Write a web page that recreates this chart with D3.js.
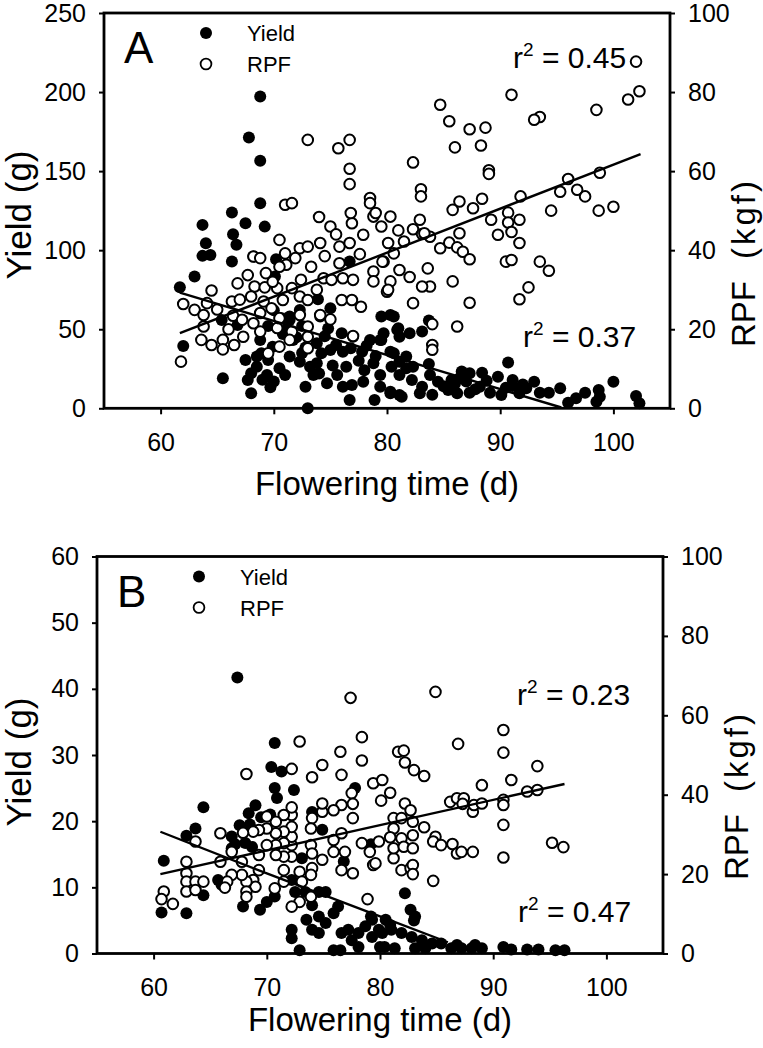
<!DOCTYPE html>
<html>
<head>
<meta charset="utf-8">
<script src="https://cdn.jsdelivr.net/npm/d3@7"></script>
<style>
  body { margin: 0; background: #fff; }
  text { font-family: "Liberation Sans", Arial, sans-serif; fill: #000; }
</style>
</head>
<body>
<script>
// ---- data: [flowering day, value] ----
var aYield = [[68.8,197.2],[67.8,171.3],[68.8,156.5],
  [61.7,76.6],[62.0,39.4],[63.0,83.3],[63.7,116.0],[64.0,104.4],[63.7,96.4],[64.4,97.0],[66.3,123.8],[66.4,110.1],
  [66.7,103.4],[66.3,92.8],[67.5,117.1],[68.8,129.7],[69.2,114.9],[65.5,19.0],[65.4,55.9],[66.8,52.7],[67.5,30.6],
  [68.0,22.2],[67.7,17.9],[68.0,9.5],[68.5,26.3],[68.9,34.8],[69.4,21.1],[69.7,13.3],[70.2,94.3],[70.1,83.3],
  [70.7,57.0],[71.4,55.9],[70.5,25.3],[72.8,13.7],[73.0,0.0],[72.3,29.5],[73.2,26.3],[73.8,41.1],[73.9,69.0],
  [75.0,63.3],[74.2,34.8],[75.6,21.1],[74.7,15.8],[76.0,47.5],[76.7,92.8],[76.1,35.8],[76.7,5.3],[76.9,14.7],
  [77.9,16.8],[78.8,28.5],[78.9,5.3],[79.4,21.1],[80.3,10.5],[81.3,7.3],[80.4,26.3],[80.6,58.0],[80.3,35.8],
  [81.1,45.3],[81.7,32.7],[81.7,25.3],[78.5,43.2],[79.4,43.2],[77.0,45.3],[77.8,35.8],[75.0,36.9],[73.8,28.5],
  [71.7,43.2],[71.1,49.6],[69.9,39.0],[68.8,43.2],[68.5,32.7],[69.5,30.6],[71.4,32.7],[73.5,21.1],[76.4,26.3],
  [76.1,13.7],[79.4,13.7],[71.4,58.0],[72.3,62.2],[74.1,58.0],[68.2,96.0],
  [72.0,45.0],[72.8,38.5],[74.5,45.5],[75.5,40.0],[76.8,38.0],[77.5,30.0],[78.0,24.0],[75.2,27.0],[74.0,22.0],
  [72.5,35.0],[70.8,47.0],[69.5,52.0],[70.0,62.0],[72.5,52.0],[74.8,50.5],[78.2,39.5],[79.0,33.0],[71.0,21.0],
  [70.0,17.0],[69.0,18.0],
  [90.7,28.9],[100.0,16.8],[102.0,7.8],[102.3,3.2],[98.7,11.6],[98.8,7.3],[98.5,4.2],[97.5,9.9],[96.7,6.3],
  [96.0,3.5],[95.3,12.7],[94.3,9.9],[93.5,9.9],[93.0,16.8],[92.3,12.7],[91.7,9.5],[91.1,14.1],[91.1,17.9],
  [89.8,20.0],[88.4,22.5],[87.3,22.2],[86.6,23.2],[86.4,19.0],[85.7,17.9],[88.2,13.7],[89.1,9.9],[90.1,8.4],
  [87.3,9.9],[86.2,9.5],[85.4,11.6],[84.5,16.8],[83.8,21.1],[83.7,28.0],[82.3,26.3],[81.1,29.5],[80.6,34.8],
  [80.3,59.0],[79.5,58.0],[80.3,9.5],[81.1,8.4],[82.9,9.5],[83.1,13.7],[82.2,17.9],[81.1,21.1],[79.7,47.5],
  [79.5,43.2],[80.9,49.6],[83.7,55.5],[82.0,47.5],[83.1,48.5],[81.0,50.6],
  [85.0,14.0],[86.0,15.5],[87.0,17.0],[88.8,17.5],[90.5,13.0],[92.0,15.0],[84.0,8.5],[87.8,12.0]];

var aRpf = [[73.0,67.9],[75.7,65.8],[76.7,67.9],[76.7,60.6],[76.7,56.7],[78.5,53.2],
  [102.0,87.7],[102.3,80.2],[101.3,78.1],[98.5,75.5],[91.0,79.3],[93.5,73.7],[93.0,73.0],[84.7,76.8],[85.5,72.6],
  [87.3,70.6],[88.7,71.0],[86.0,66.0],[88.3,66.5],[82.3,62.2],[89.0,60.2],[89.0,59.3],[83.0,55.4],[83.0,53.6],
  [96.0,58.0],[98.8,59.6],[95.3,54.8],[96.8,55.3],[97.5,53.6],[91.8,53.6],[86.4,52.3],[88.4,53.0],
  [85.8,50.2],[87.6,50.6],[94.5,50.0],[98.7,50.0],[100.0,51.0],[80.3,48.5],[89.2,47.7],[90.7,49.5],[90.7,47.0],
  [91.7,47.7],[89.8,43.9],[91.0,44.6],[91.7,41.8],[82.3,45.3],[81.0,45.0],[83.1,44.1],[83.8,43.4],[86.4,44.3],
  [84.7,40.5],[85.5,41.9],[86.2,40.7],[86.7,39.6],[87.3,37.7],[90.5,37.1],[91.0,37.5],[93.5,37.1],[94.3,34.8],
  [92.5,30.6],[91.7,27.6],[87.3,26.7],[86.2,20.7],[85.8,32.1],[83.6,35.4],[83.8,30.8],[83.1,30.8],[82.3,26.6],
  [82.0,33.2],[81.1,35.0],[80.3,32.1],[80.0,29.5],[79.7,37.1],[84.0,21.3],[84.0,16.0],[84.0,14.8],
  [61.8,11.8],[62.0,26.4],[63.0,24.9],[63.8,23.6],[64.5,29.8],[64.1,26.6],[63.8,20.7],[63.6,17.3],[64.5,16.0],
  [65.5,17.3],[65.5,14.9],[66.5,16.0],[66.4,23.4],[66.3,27.0],[66.8,31.6],[67.3,18.1],[67.7,33.7],[68.3,30.8],
  [68.2,38.4],[68.8,38.0],[69.3,34.2],[69.2,30.6],[69.1,27.0],[68.0,28.3],[68.8,19.4],[68.2,21.5],[69.5,13.9],
  [70.3,20.3],[70.5,22.8],[70.8,27.4],[70.3,30.4],[71.0,39.2],[70.5,42.6],[71.1,36.3],[71.6,30.4],[71.6,19.4],
  [72.3,23.6],[72.3,40.5],[73.0,40.9],[72.4,32.5],[73.0,20.7],[73.0,18.1],[73.0,15.2],[73.3,35.8],[74.1,41.8],
  [74.4,32.9],[74.1,23.6],[75.0,46.0],[74.0,48.4],[75.0,22.5],[76.0,27.4],[75.8,40.9],[76.1,32.9],[76.9,27.4],
  [76.9,46.8],[76.7,41.8],[77.0,32.5],[77.7,25.7],[77.9,43.9],[78.5,51.9],[78.8,48.5],[78.8,34.6],[78.8,32.1],
  [79.5,46.0],[79.6,37.1],[80.1,41.8],[80.1,30.0],[80.6,39.2],[81.5,42.2],[77.0,18.3],[75.1,32.5],[75.8,36.7],
  [71.4,17.3],[72.3,28.3],[67.2,22.4],[68.8,24.1],[69.8,25.3],[70.5,15.6],[73.0,27.4],[70.5,35.8],[71.0,51.5],
  [71.6,51.9],[76.8,49.4],[79.0,49.4],[82.9,47.7],[83.3,44.3],
  [67.0,27.5],[65.0,25.0],[66.0,20.0],[69.9,32.0],[71.9,38.0],[74.5,38.5],[75.5,44.0],[77.6,39.0],[73.8,30.0]];

var bYield = [[67.4,41.7],[70.7,31.8],[64.4,22.1],[63.7,18.9],[62.9,17.8],[60.9,14.0],[60.7,6.2],[62.9,6.1],
  [64.4,8.8],[67.9,7.1],[69.4,6.6],[70.0,7.8],[70.4,28.2],[70.7,25.0],[70.9,23.5],[71.3,27.5],[72.4,24.7],
  [69.0,22.4],[68.4,21.2],[67.6,19.4],[66.9,17.7],[68.1,16.7],[68.7,16.1],[66.9,15.9],[65.7,11.1],[66.0,10.4],
  [67.2,16.5],[68.5,19.5],[69.5,20.6],[70.3,21.0],[79.2,16.5],
  [74.0,21.4],[74.9,18.7],[73.1,14.4],[76.8,13.9],[77.8,25.0],[72.2,11.1],[72.5,9.3],[73.4,9.3],[74.6,9.3],
  [75.2,9.3],[70.7,8.6],[74.0,7.3],[72.2,3.6],[72.2,2.3],[72.9,0.5],[73.5,5.1],[74.0,3.6],[74.6,5.6],[74.6,3.1],
  [75.2,4.6],[75.9,6.1],[76.3,7.1],[76.6,3.1],[77.2,3.6],[75.9,0.5],[76.5,0.5],[77.5,2.0],[78.1,3.1],[78.7,4.1],
  [79.3,5.1],[79.3,2.5],[79.9,3.6],[80.0,1.0],[78.1,1.0],[82.2,9.1],[82.7,6.6],[83.1,5.6],[83.0,5.0],[80.2,3.1],
  [81.0,3.6],[81.9,3.1],[82.8,2.5],[83.7,2.0],[84.6,1.5],[85.4,1.5],[84.0,0.8],[83.1,0.8],[81.3,0.8],[80.4,1.0],
  [86.3,0.8],[87.2,0.8],[88.1,0.8],[89.0,0.8],[86.8,1.3],[88.4,1.3],[90.9,1.0],[91.6,0.6],[93.0,0.6],[94.0,0.6],
  [95.5,0.5],[96.3,0.5],[80.5,5.1],[80.9,4.3],[79.2,5.6]];

var bRpf = [[77.4,64.4],[84.9,65.9],
  [68.2,45.2],[72.9,53.4],[72.2,46.5],[74.9,47.5],[74.0,44.4],[76.5,50.8],[76.6,45.0],[78.4,54.5],[78.4,48.6],
  [79.4,42.9],[80.2,43.7],[80.1,38.5],[77.5,40.4],[77.6,37.7],[77.6,34.1],[76.6,37.4],[75.9,36.1],[74.9,35.7],
  [74.9,37.8],[74.0,34.1],[73.9,31.5],[73.9,27.3],[74.0,25.2],[74.0,21.5],[73.9,19.8],[73.9,14.3],[72.9,20.6],
  [73.1,18.1],[72.9,13.0],[72.2,11.8],[72.2,24.4],[72.2,27.3],[72.2,29.4],[72.2,31.9],[72.2,34.9],[72.2,36.8],
  [71.5,34.9],[71.5,30.7],[71.5,27.8],[71.5,24.4],[71.5,21.0],[71.5,18.1],[70.8,33.2],[70.8,30.3],[70.8,27.3],
  [70.8,24.8],[70.7,16.4],[70.0,31.5],[70.0,27.3],[70.0,34.5],[69.3,31.1],[69.3,24.8],[69.3,21.0],[68.8,18.5],
  [68.8,30.7],[69.0,16.8],[68.2,18.1],[68.2,15.6],[68.2,14.3],[67.8,23.1],[67.8,19.8],[67.9,30.4],[66.9,25.6],
  [66.9,19.8],[66.5,18.1],[66.3,16.6],[65.9,30.3],[65.9,23.1],[63.7,28.2],[62.9,23.1],[62.9,20.2],[62.9,18.1],
  [62.9,15.6],[63.7,18.1],[63.7,16.0],[64.4,18.1],[60.9,15.6],[60.7,13.7],[61.7,12.5],[75.9,28.6],[75.9,25.6],
  [76.6,30.3],[76.9,25.6],[76.6,21.0],[77.6,20.2],[74.9,23.6],[78.9,13.7],[78.4,27.8],[79.1,25.6],[79.4,22.3],
  [79.9,28.2],
  [90.9,56.3],[90.9,50.6],[86.9,52.8],[81.6,50.8],[82.1,51.1],[82.2,48.1],[83.0,46.2],[83.9,44.7],[80.9,40.5],
  [82.2,37.8],[82.7,36.1],[81.2,34.1],[81.9,34.1],[82.9,33.2],[81.2,31.5],[83.9,31.8],[80.9,29.3],[81.9,29.0],
  [82.9,29.8],[84.9,29.4],[84.7,28.2],[85.4,27.3],[86.4,27.6],[86.8,25.2],[87.2,25.6],[88.2,25.6],[79.6,22.7],
  [81.2,24.0],[81.2,26.5],[82.1,26.9],[82.9,26.5],[81.9,21.0],[82.7,21.5],[82.9,22.3],[82.9,20.0],[84.7,18.3],
  [86.2,38.2],[86.8,39.1],[87.4,39.1],[87.3,37.7],[88.2,35.7],[88.3,37.4],[89.0,37.8],[89.0,42.4],[91.6,43.7],
  [90.9,38.7],[90.9,37.4],[90.9,32.4],[90.9,24.2],[93.0,40.8],[93.9,41.2],[93.9,47.2],[95.2,27.9],[96.2,26.8]];

// fitted lines, read at their ends
var aYieldFit = [[61.7,73.2],[95.4,0.5]];
var aRpfFit = [[61.7,19.0],[102.4,64.3]];
var bYieldFit = [[60.6,18.4],[70,12.1],[80,5.6],[86,1.7]];
var bRpfFit = [[60.6,20.0],[96.3,42.7]];

var xTicks = [60, 70, 80, 90, 100];
var aYieldTicks = [0, 50, 100, 150, 200, 250];
var bYieldTicks = [0, 10, 20, 30, 40, 50, 60];
var rpfTicks = [0, 20, 40, 60, 80, 100];

var svg = d3.select("body").append("svg")
    .attr("width", 763)
    .attr("height", 1048);

function panel(o) {
  var x = d3.scaleLinear().domain([55, 105]).range([o.left, o.right]),
      yL = d3.scaleLinear().domain([0, o.yMax]).range([o.bottom, o.top]),
      yR = d3.scaleLinear().domain([0, 100]).range([o.bottom, o.top]);

  var g = svg.append("g");

  // points: yield first, RPF on top
  g.selectAll(".yp").data(o.yield).enter().append("circle")
    .attr("cx", function(d){ return x(d[0]); })
    .attr("cy", function(d){ return yL(d[1]); })
    .attr("r", 6)
    .attr("fill", "#000");
  g.selectAll(".rp").data(o.rpf).enter().append("circle")
    .attr("cx", function(d){ return x(d[0]); })
    .attr("cy", function(d){ return yR(d[1]); })
    .attr("r", 5.3)
    .attr("fill", "#fff")
    .attr("stroke", "#000")
    .attr("stroke-width", 2);

  var lineL = d3.line().x(function(d){ return x(d[0]); }).y(function(d){ return yL(d[1]); }),
      lineR = d3.line().x(function(d){ return x(d[0]); }).y(function(d){ return yR(d[1]); });
  g.append("path").attr("d", lineL(o.yieldFit)).attr("fill", "none").attr("stroke", "#000").attr("stroke-width", 2.4);
  g.append("path").attr("d", lineR(o.rpfFit)).attr("fill", "none").attr("stroke", "#000").attr("stroke-width", 2.4);

  // axes
  var ax = g.append("g").attr("transform", "translate(0," + o.bottom + ")")
    .call(d3.axisBottom(x).tickValues(xTicks).tickSize(6).tickPadding(19));
  var al = g.append("g").attr("transform", "translate(" + o.left + ",0)")
    .call(d3.axisLeft(yL).tickValues(o.yTicks).tickSize(5).tickPadding(13));
  var ar = g.append("g").attr("transform", "translate(" + o.right + ",0)")
    .call(d3.axisRight(yR).tickValues(rpfTicks).tickSize(5).tickPadding(13));
  [ax, al, ar].forEach(function(a){
    a.select(".domain").remove();
    a.selectAll("line").attr("stroke-width", 2);
    a.selectAll("text").attr("font-size", 25).attr("font-family", null);
  });

  g.append("rect")
    .attr("x", o.left).attr("y", o.top)
    .attr("width", o.right - o.left).attr("height", o.bottom - o.top)
    .attr("fill", "none").attr("stroke", "#000").attr("stroke-width", 2.8);

  // titles
  g.append("text").attr("x", (o.left + o.right) / 2).attr("y", o.titleY)
    .attr("text-anchor", "middle").attr("font-size", 33).text("Flowering time (d)");
  g.append("text").attr("transform", "translate(31," + o.yTitleMid + ") rotate(-90)")
    .attr("text-anchor", "middle").attr("font-size", 35).text("Yield (g)");
  var rt = g.append("text").attr("transform", "translate(" + o.rTitleX + "," + o.rTitleStart + ") rotate(-90)")
    .attr("font-size", 33);
  rt.append("tspan").text("RPF");
  rt.append("tspan").attr("dx", 22).attr("letter-spacing", 3).text("(kgf)");

  // panel letter
  g.append("text").attr("x", o.left + 20).attr("y", o.top + 50).attr("font-size", 44).text(o.letter);

  // legend
  g.append("circle").attr("cx", o.left + 102).attr("cy", o.top + 20).attr("r", 6).attr("fill", "#000");
  g.append("circle").attr("cx", o.left + 102).attr("cy", o.top + 51).attr("r", 5.4)
    .attr("fill", "#fff").attr("stroke", "#000").attr("stroke-width", 1.8);
  g.append("text").attr("x", o.left + 143).attr("y", o.top + 28).attr("font-size", 22).text("Yield");
  g.append("text").attr("x", o.left + 143).attr("y", o.top + 59).attr("font-size", 22).text("RPF");

  // r² labels
  function r2(xp, yp, val) {
    var t = g.append("text").attr("x", xp).attr("y", yp).attr("font-size", 30);
    t.append("tspan").text("r");
    t.append("tspan").attr("font-size", 19).attr("dy", -12).text("2");
    t.append("tspan").attr("dy", 12).text(" = " + val);
  }
  r2(o.r2a[0], o.r2a[1], o.r2a[2]);
  r2(o.r2b[0], o.r2b[1], o.r2b[2]);
}

panel({
  left: 104, right: 670, top: 13, bottom: 408.3, yMax: 250, yTicks: aYieldTicks,
  yield: aYield, rpf: aRpf, yieldFit: aYieldFit, rpfFit: aRpfFit,
  titleY: 495, yTitleMid: 215, rTitleX: 755, rTitleStart: 347, letter: "A",
  r2a: [513, 68, "0.45"], r2b: [523, 347, "0.37"]
});

panel({
  left: 97, right: 663, top: 556.5, bottom: 953.5, yMax: 60, yTicks: bYieldTicks,
  yield: bYield, rpf: bRpf, yieldFit: bYieldFit, rpfFit: bRpfFit,
  titleY: 1031, yTitleMid: 762, rTitleX: 748, rTitleStart: 880, letter: "B",
  r2a: [517, 705, "0.23"], r2b: [518, 922, "0.47"]
});
</script>
</body>
</html>
